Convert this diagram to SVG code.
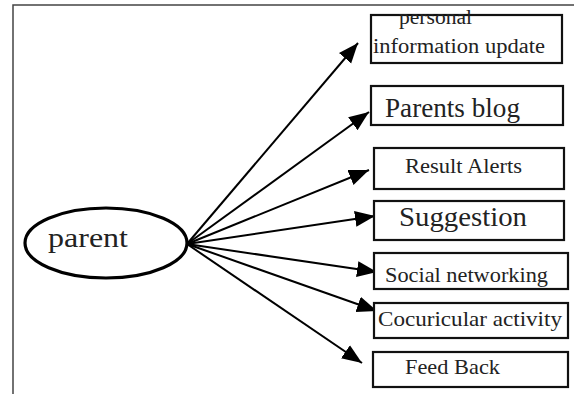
<svg xmlns="http://www.w3.org/2000/svg" width="574" height="394" viewBox="0 0 574 394">
<style>
.box{fill:#fff;stroke:#111;stroke-width:2.2}
.t{fill:#222}
.c{stroke:#000;stroke-width:2;fill:none}
</style>
<defs>
<marker id="ah" markerUnits="userSpaceOnUse" markerWidth="22" markerHeight="18" refX="20" refY="8" orient="auto">
<path d="M0,0 L20,8 L0,16 z" fill="#000"/>
</marker>
</defs>
<rect width="574" height="394" fill="#fff"/>
<path d="M13,394 L13,5 L574,5" fill="none" stroke="#444" stroke-width="1.5"/>
<g id="connectors">
<line class="c" x1="187" y1="244" x2="358" y2="43" marker-end="url(#ah)"/>
<line class="c" x1="187" y1="244" x2="369" y2="112" marker-end="url(#ah)"/>
<line class="c" x1="187" y1="244" x2="369" y2="170" marker-end="url(#ah)"/>
<line class="c" x1="187" y1="244" x2="375" y2="216" marker-end="url(#ah)"/>
<line class="c" x1="187" y1="244" x2="377" y2="272" marker-end="url(#ah)"/>
<line class="c" x1="187" y1="244" x2="377" y2="311" marker-end="url(#ah)"/>
<line class="c" x1="187" y1="244" x2="362" y2="363" marker-end="url(#ah)"/>
</g>
<g font-family="'Liberation Serif', 'DejaVu Serif', 'Times New Roman', serif">
<g id="parent">
<ellipse cx="106" cy="243" rx="81" ry="35" fill="#fff" stroke="#000" stroke-width="3.2"/>
<text class="t" x="48" y="247" font-size="28" textLength="80" lengthAdjust="spacingAndGlyphs">parent</text>
</g>
<g id="personal">
<rect class="box" x="371" y="15" width="191" height="48"/>
<text class="t" x="399" y="24" font-size="20" textLength="73" lengthAdjust="spacingAndGlyphs">personal</text>
<text class="t" x="373" y="53" font-size="20" textLength="172" lengthAdjust="spacingAndGlyphs">information update</text>
</g>
<g id="blog">
<rect class="box" x="371" y="86" width="192" height="39"/>
<text class="t" x="385" y="117" font-size="27" textLength="135" lengthAdjust="spacingAndGlyphs">Parents blog</text>
</g>
<g id="result">
<rect class="box" x="374" y="148" width="190" height="41"/>
<text class="t" x="405" y="173" font-size="20" textLength="117" lengthAdjust="spacingAndGlyphs">Result Alerts</text>
</g>
<g id="suggestion">
<rect class="box" x="374" y="201" width="190" height="39"/>
<text class="t" x="399" y="226" font-size="28" textLength="128" lengthAdjust="spacingAndGlyphs">Suggestion</text>
</g>
<g id="social">
<rect class="box" x="374" y="253" width="194" height="36"/>
<text class="t" x="385" y="282" font-size="21" textLength="163" lengthAdjust="spacingAndGlyphs">Social networking</text>
</g>
<g id="cocurricular">
<rect class="box" x="374" y="303" width="194" height="35"/>
<text class="t" x="378" y="326" font-size="21" textLength="184" lengthAdjust="spacingAndGlyphs">Cocuricular activity</text>
</g>
<g id="feedback">
<rect class="box" x="373" y="352" width="195" height="35"/>
<text class="t" x="405" y="374" font-size="21" textLength="95" lengthAdjust="spacingAndGlyphs">Feed Back</text>
</g>
</g>
</svg>
